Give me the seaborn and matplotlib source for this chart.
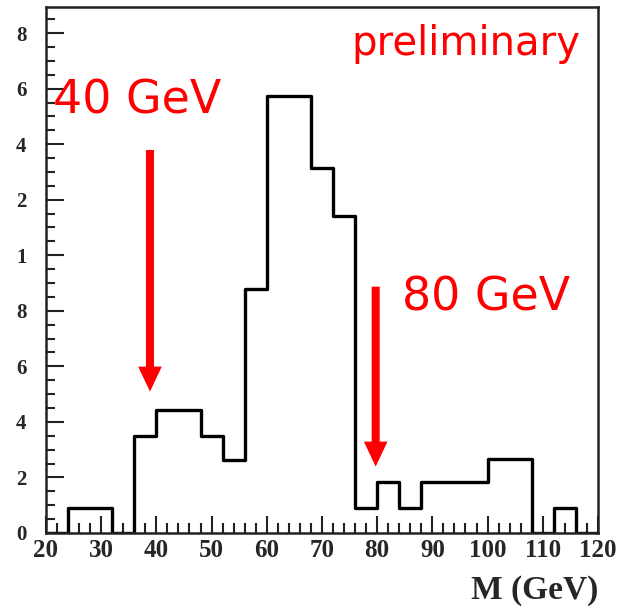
import numpy as np
import matplotlib
matplotlib.use("Agg")
import matplotlib.pyplot as plt
import seaborn as sns

sns.set_style("white")

# -----------------------------------------------------------
# DATA (4 GeV bins)
# -----------------------------------------------------------
bin_edges = [20, 24, 28, 32, 36, 40, 44, 48, 52, 56, 60, 64, 68,
             72, 76, 80, 84, 88, 92, 96, 100, 104, 108, 112, 116, 120]
bin_centers = [22, 26, 30, 34, 38, 42, 46, 50, 54, 58, 62, 66, 70,
               74, 78, 82, 86, 90, 94, 98, 102, 106, 110, 114, 118]
bin_counts = [0.0, 0.91, 0.91, 0.0, 3.49, 4.42, 4.42, 3.49, 2.63, 8.77,
              15.74, 15.74, 13.16, 11.41, 0.89, 1.85, 0.89, 1.85, 1.85, 1.85,
              2.66, 2.66, 0.0, 0.89, 0.0]

x_ticks = [20, 30, 40, 50, 60, 70, 80, 90, 100, 110, 120]
y_ticks = [0, 2, 4, 6, 8, 10, 12, 14, 16, 18]
y_tick_labels = ["0", "2", "4", "6", "8", "1", "2", "4", "6", "8"]

# arrows: (tail, tip)
arrow_40 = ((38.84, 13.79), (38.84, 5.09))
arrow_80 = ((79.73, 8.87), (79.73, 2.39))

# -----------------------------------------------------------
# PLOT
# -----------------------------------------------------------
fig = plt.figure(figsize=(6.18, 6.12), dpi=100)
ax = fig.add_axes([0.0744, 0.1291, 0.8932, 0.8595])

sns.histplot(x=bin_centers, weights=bin_counts, bins=bin_edges,
             element="step", fill=False, color="black", linewidth=2.4, ax=ax)

ax.set_xlim(20, 120)
ax.set_ylim(0, 18.94)

serif = "Liberation Serif"
ax.set_xticks(x_ticks)
ax.set_xticks(np.arange(20, 121, 2), minor=True)
ax.set_xticklabels([str(t) for t in x_ticks], fontfamily=serif,
                   fontweight="bold", fontsize=18)
ax.set_yticks(y_ticks)
ax.set_yticks(np.arange(0, 19, 0.5), minor=True)
ax.set_yticklabels(y_tick_labels, fontfamily=serif, fontweight="bold",
                   fontsize=15)

ax.tick_params(axis="both", which="both", direction="in", width=1.5,
               color="#222222", top=False, right=False, left=True, bottom=True)
ax.tick_params(axis="y", which="major", length=13, pad=14)
ax.tick_params(axis="y", which="minor", length=6.5)
ax.tick_params(axis="x", which="major", length=12, pad=4)
ax.tick_params(axis="x", which="minor", length=7)

for side in ["left", "right", "top", "bottom"]:
    ax.spines[side].set_visible(True)
    ax.spines[side].set_color("#222222")
    ax.spines[side].set_linewidth(1.8)

ax.set_ylabel("")
ax.set_xlabel("M (GeV)", fontfamily=serif, fontweight="bold", fontsize=24,
              loc="right", labelpad=10)

# red annotations
red = "#ff0000"
ax.text(0.553, 0.909, "preliminary", transform=ax.transAxes, color=red,
        fontsize=29, ha="left", va="baseline", family="DejaVu Sans")
ax.text(0.013, 0.798, "40 GeV", transform=ax.transAxes, color=red,
        fontsize=33, ha="left", va="baseline", family="DejaVu Sans")
ax.text(0.645, 0.4226, "80 GeV", transform=ax.transAxes, color=red,
        fontsize=33, ha="left", va="baseline", family="DejaVu Sans")

for tail, tip in [arrow_40, arrow_80]:
    ax.annotate("", xy=tip, xytext=tail,
                arrowprops=dict(facecolor=red, edgecolor="none", width=5.8,
                                headwidth=17, headlength=18, shrink=0.0))

fig.savefig("out.png", dpi=100)
